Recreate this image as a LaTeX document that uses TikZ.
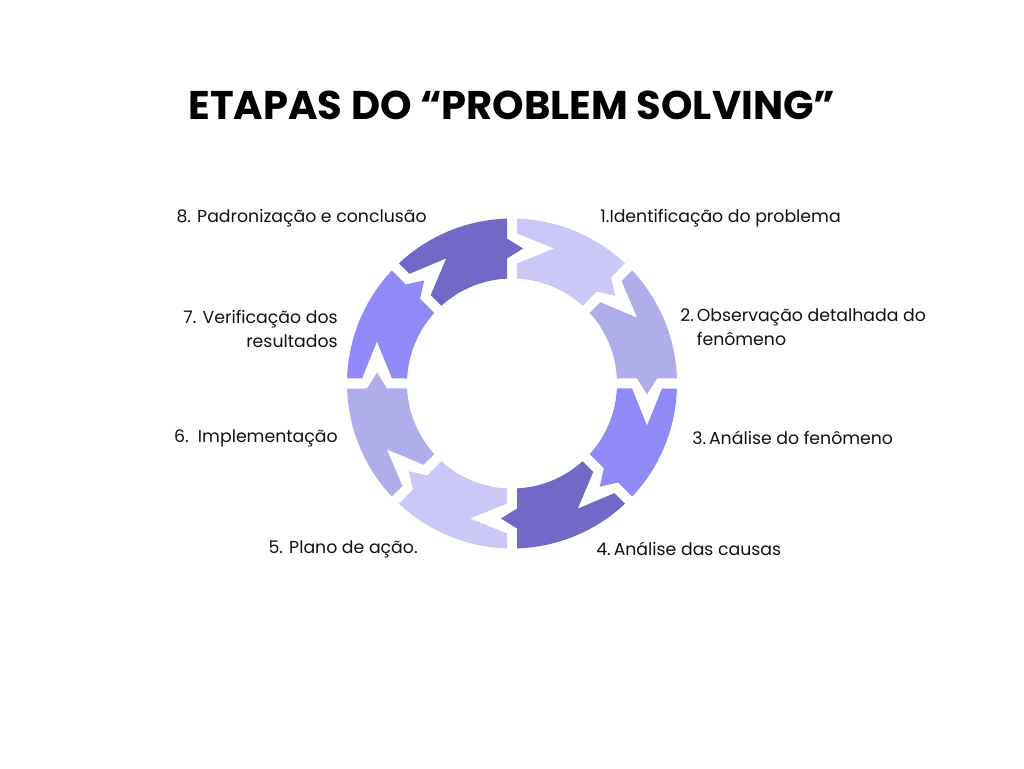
\documentclass[tikz,border=0pt]{standalone}
\usepackage{fontspec}
\setmainfont{Poppins}
\usepackage{xcolor}
\usepackage{tikz}
\usetikzlibrary{calc,positioning}
\definecolor{ink}{HTML}{111111}
\definecolor{segA}{HTML}{CBC8F8}
\definecolor{segB}{HTML}{B0ADEB}
\definecolor{segC}{HTML}{9089F8}
\definecolor{segD}{HTML}{7268C6}

\begin{document}
\begin{tikzpicture}[
  x=0.02cm, y=0.02cm,
  label/.style={font=\fontsize{9.85}{13.7}\selectfont, text=ink, inner sep=0pt},
  lleft/.style={label, anchor=west, align=left},
  lright/.style={label, anchor=east, align=right},
  title/.style={font=\fontsize{22.8}{28}\selectfont\bfseries, text=black, inner sep=0pt}
]
\useasboundingbox (0,0) rectangle (1024,768);
\coordinate (c) at (512,384.5);

% ring of arrows
\foreach \k/\col in {1/segA,2/segB,3/segC,4/segD,5/segA,6/segB,7/segC,8/segD}{
  \pgfmathsetmacro\a{90-45*(\k-1)}
  \pgfmathsetmacro\b{\a-45}
  \fill[\col] ($(c)+(\a-1.74:165)$) arc[start angle=\a-1.74, end angle=\b+1.74, radius=165]
    -- ($(c)+(\b:145)+(\b+90:5)$) -- ($(c)+(\b:135)+(\b-90:11)$) -- ($(c)+(\b:125)+(\b+90:5)$)
    -- ($(c)+(\b+2.73:105)$) arc[start angle=\b+2.73, end angle=\a-2.73, radius=105]
    -- ($(c)+(\a:120)+(\a-90:5)$) -- ($(c)+(\a:135)+(\a-90:42)$) -- ($(c)+(\a:150)+(\a-90:5)$)
    -- cycle;
}

\node[title] (t) at (512,663) {ETAPAS DO “PROBLEM SOLVING”};

\node[lleft] (s1) at (600,550) {1.Identificação do problema};
\node[lleft] (s2) at (680,439) {\begin{tabular}{@{}l@{\,}l@{}}2.&Observação detalhada do\\&fenômeno\end{tabular}};
\node[lleft] (s3) at (692,330) {3.\,Análise do fenômeno};
\node[lleft] (s4) at (596,219) {4.\,Análise das causas};
\node[lright] (s5) at (418,219) {5. Plano de ação.};
\node[lright] (s6) at (338,330) {6.\ \ Implementação};
\node[lright] (s7) at (338,439) {7. Verificação dos\\resultados};
\node[lright] (s8) at (427,550) {8. Padronização e conclusão};

\end{tikzpicture}
\end{document}
